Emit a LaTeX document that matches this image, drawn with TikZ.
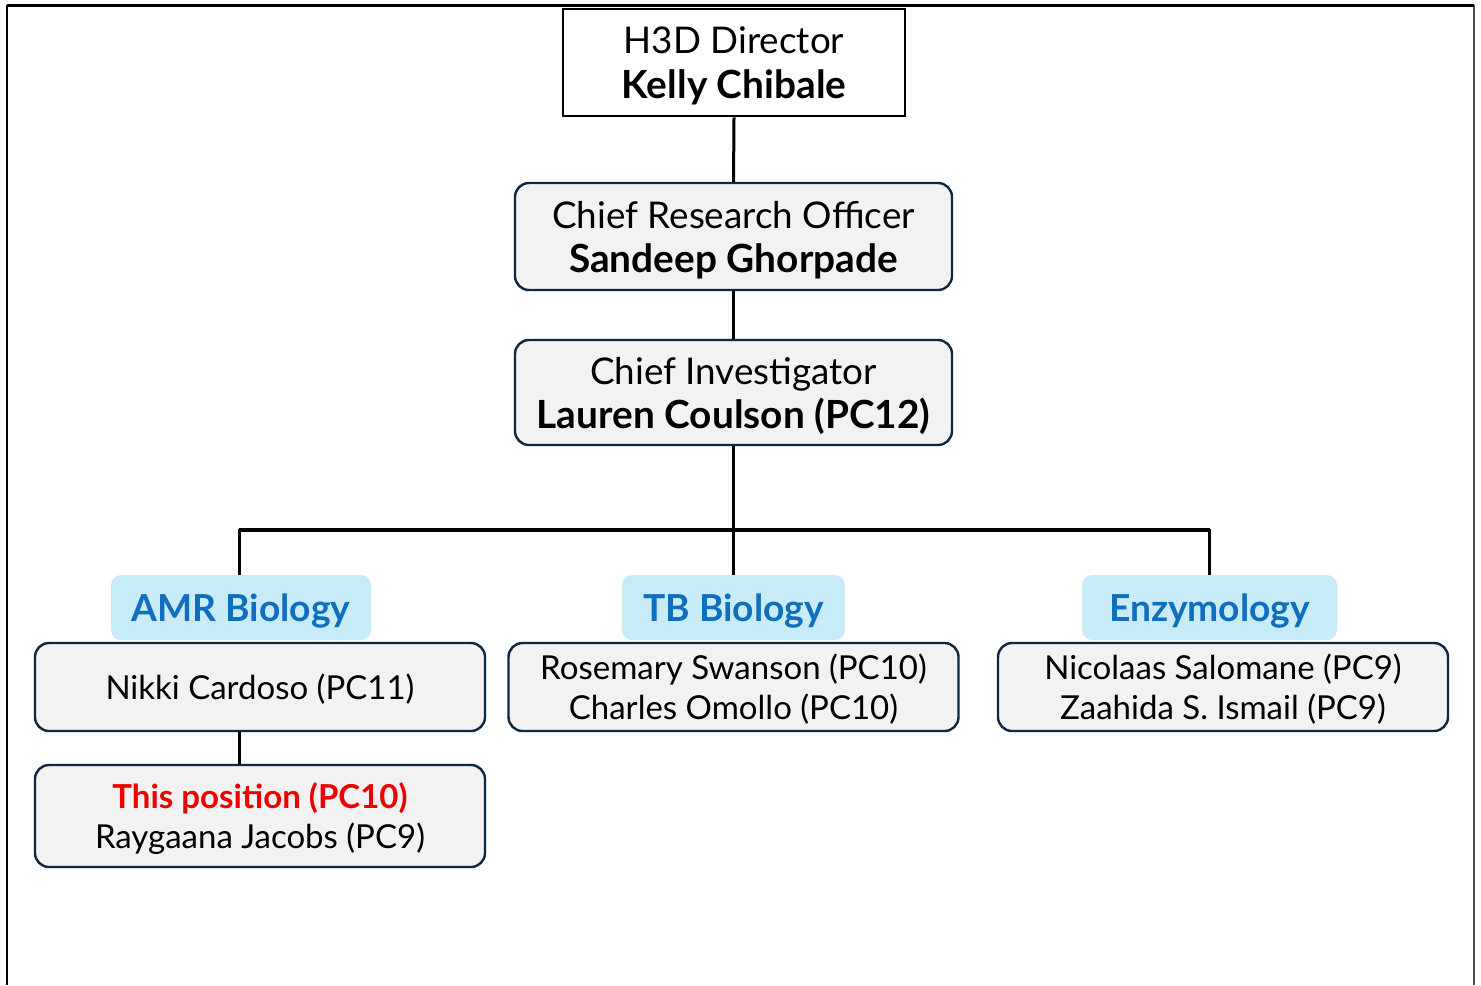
\documentclass[tikz,border=0pt]{standalone}
\usepackage{fontspec}
\setmainfont{Lato}
\definecolor{boxedge}{HTML}{0E2841}
\definecolor{boxfill}{HTML}{F2F2F2}
\definecolor{teamfill}{HTML}{C8EBF8}
\definecolor{teamtext}{HTML}{0F6EBE}
\definecolor{alertred}{HTML}{EE0000}
\newcommand{\headname}[1]{{\fontsize{19.4}{22.5}\selectfont\bfseries #1}}

\begin{document}
\begin{tikzpicture}[x=0.5pt, y=-0.5pt,
  headbox/.style={draw=black, line width=1.4pt, fill=white, align=center, text depth=0pt,
    minimum width=171pt, minimum height=53.5pt, font=\fontsize{18.4}{22.5}\selectfont},
  rolebox/.style={draw=boxedge, line width=1.2pt, fill=boxfill, rounded corners=7pt,
    align=center, text depth=0pt, minimum width=218.5pt, font=\fontsize{18.4}{22}\selectfont},
  teambox/.style={fill=teamfill, rounded corners=5pt, text=teamtext, inner sep=0pt,
    text depth=0pt, minimum height=32.5pt, font=\fontsize{18.6}{20}\selectfont\bfseries},
  namebox/.style={draw=boxedge, line width=1.2pt, fill=boxfill, rounded corners=7pt,
    align=center, text depth=0pt, minimum width=225pt, font=\fontsize{16.5}{20}\selectfont},
  link/.style={line width=1.5pt},
  barline/.style={line width=2.4pt}]
  \useasboundingbox (0,0) rectangle (1481,985);

  % Frame
  \draw[line width=0.8pt] (7,985) -- (7,5);
  \draw[line width=0.8pt, black!70] (1474,5) -- (1474,985);
  \draw[line width=1.5pt] (7,5) -- (1474,5);

  % Top of the chart
  \node[headbox] (dir) at (734,62.5) {H3D Director\\\headname{Kelly Chibale}};
  \node[rolebox, minimum height=53.5pt] (cro) at (733.5,236.5)
    {Chief Research Officer\\\headname{Sandeep Ghorpade}};
  \node[rolebox, minimum height=52.5pt] (ci) at (733.5,392.5)
    {Chief Investigator\\\headname{Lauren Coulson (PC12)}};

  % Teams
  \node[teambox, minimum width=130pt] (amr) at (241,607.5) {AMR Biology};
  \node[teambox, minimum width=111.5pt] (tb) at (733.5,607.5) {TB Biology};
  \node[teambox, minimum width=127.5pt] (enz) at (1209.5,607.5) {Enzymology};

  % People
  \node[namebox, minimum height=44pt] (nikki) at (260,687) {Nikki Cardoso (PC11)};
  \node[namebox, minimum height=44pt] (tbstaff) at (733.5,687)
    {Rosemary Swanson (PC10)\\Charles Omollo (PC10)};
  \node[namebox, minimum height=44pt] (enzstaff) at (1223,687)
    {Nicolaas Salomane (PC9)\\Zaahida S. Ismail (PC9)};
  \node[namebox, minimum height=51pt] (pos) at (260,816)
    {\textcolor{alertred}{\bfseries This position (PC10)}\\Raygaana Jacobs (PC9)};

  % Links
  \coordinate (bar) at (734,530);
  \draw[link] (dir.south) -- (cro.north);
  \draw[link] (cro.south) -- (ci.north);
  \draw[link] (ci.south) -- (tb.north);
  \draw[link] (amr.north -| 239,0) |- (bar) -| (enz.north);
  \draw[barline] (239,0 |- bar) -- (enz.north |- bar);
  \draw[link] (nikki.south -| 239,0) -- (pos.north -| 239,0);
\end{tikzpicture}
\end{document}
